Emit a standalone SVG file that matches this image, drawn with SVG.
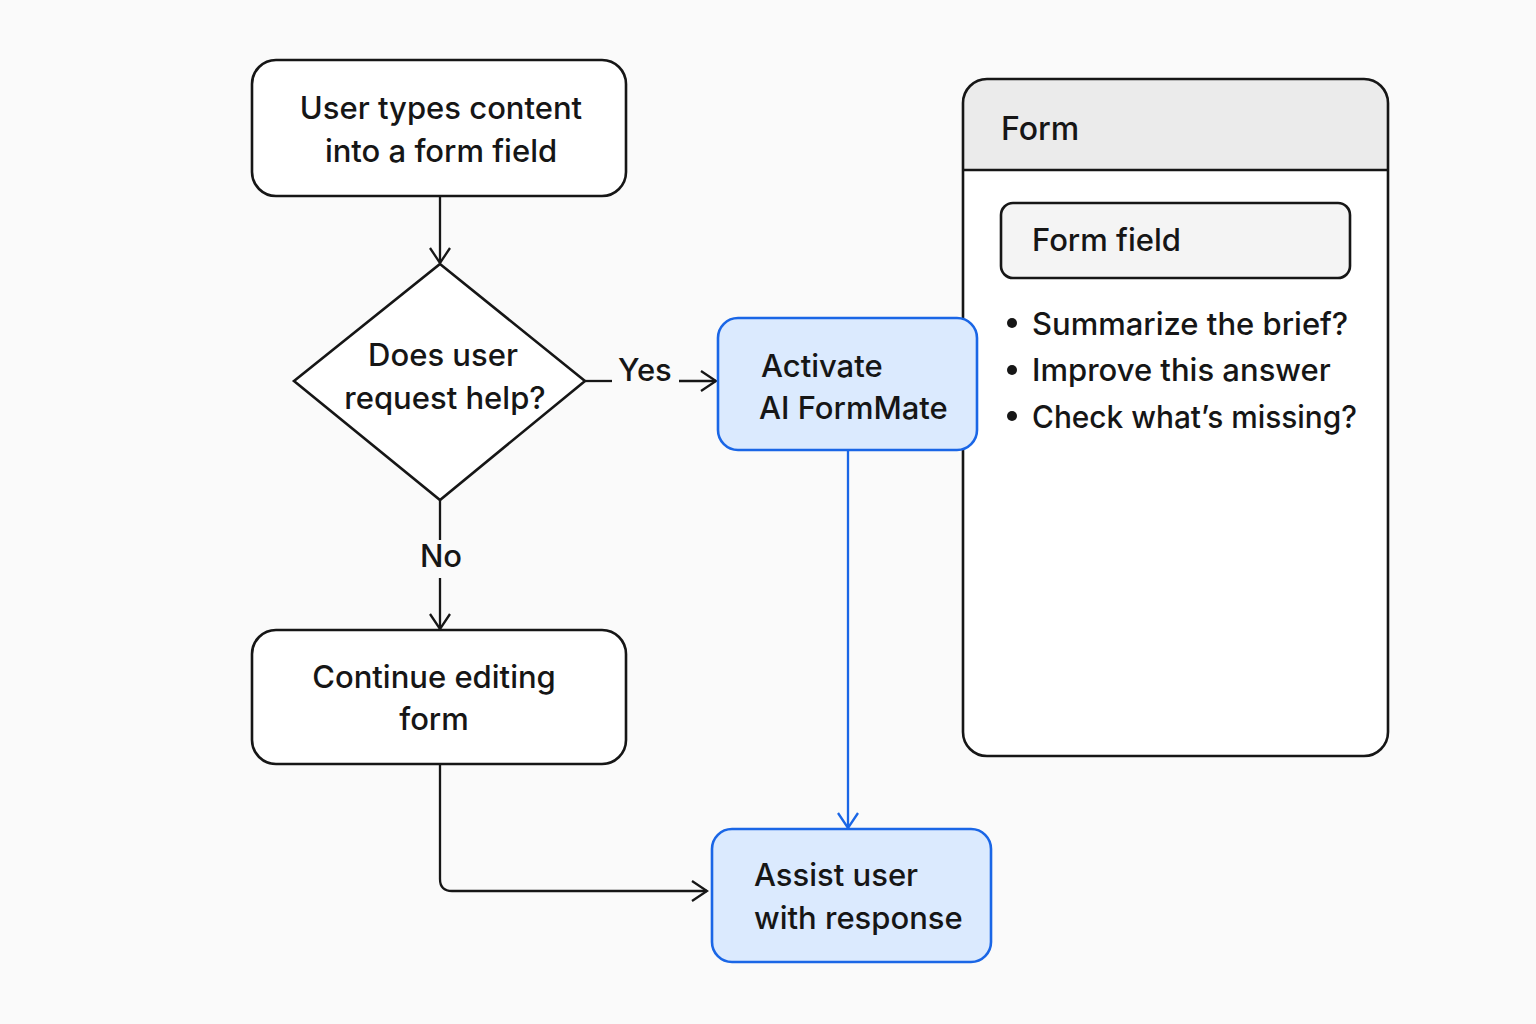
<svg xmlns="http://www.w3.org/2000/svg" width="1536" height="1024" viewBox="0 0 1536 1024">
<defs>
<style>
.t{font-family:Inter,"Noto Sans","Liberation Sans",sans-serif;font-size:31px;font-weight:500;fill:#161616}
.c{text-anchor:middle}
.box{fill:#ffffff;stroke:#161616;stroke-width:2.6}
.blue{fill:#dbeafe;stroke:#1a66e6;stroke-width:2.6}
.ln{fill:none;stroke:#161616;stroke-width:2.3}
.bl{fill:none;stroke:#1a66e6;stroke-width:2.3}
</style>
<marker id="ah" viewBox="0 0 22 22" refX="20" refY="11" markerWidth="22" markerHeight="22" markerUnits="userSpaceOnUse" orient="auto">
<path d="M5 1 L20 11 L5 21" fill="none" stroke="#161616" stroke-width="2.3"/>
</marker>
<marker id="ahb" viewBox="0 0 22 22" refX="20" refY="11" markerWidth="22" markerHeight="22" markerUnits="userSpaceOnUse" orient="auto">
<path d="M5 1 L20 11 L5 21" fill="none" stroke="#1a66e6" stroke-width="2.3"/>
</marker>
</defs>
<rect width="1536" height="1024" fill="#fafafa"/>

<g id="form">
<rect x="963" y="79" width="425" height="677" rx="24" fill="#ffffff"/>
<path d="M963 170 V103 Q963 79 987 79 H1364 Q1388 79 1388 103 V170 Z" fill="#ebebeb"/>
<rect x="963" y="79" width="425" height="677" rx="24" fill="none" stroke="#161616" stroke-width="2.6"/>
<line x1="963" y1="170" x2="1388" y2="170" stroke="#161616" stroke-width="2.6"/>
<text class="t" x="1001" y="140" style="font-size:32px">Form</text>
<rect x="1001" y="203" width="349" height="75" rx="12" fill="#f4f4f4" stroke="#161616" stroke-width="2.6"/>
<text class="t" x="1032" y="251">Form field</text>
<circle cx="1012" cy="323" r="5" fill="#161616"/>
<circle cx="1012" cy="370" r="5" fill="#161616"/>
<circle cx="1012" cy="416" r="5" fill="#161616"/>
<text class="t" x="1032" y="335">Summarize the brief?</text>
<text class="t" x="1032" y="381">Improve this answer</text>
<text class="t" x="1032" y="428" textLength="325" lengthAdjust="spacingAndGlyphs">Check what’s missing?</text>
</g>

<g id="connectors">
<line class="ln" x1="440" y1="196" x2="440" y2="263" marker-end="url(#ah)"/>
<line class="ln" x1="585" y1="381" x2="612" y2="381"/>
<text class="t" x="618" y="381">Yes</text>
<line class="ln" x1="679" y1="381" x2="716" y2="381" marker-end="url(#ah)"/>
<line class="ln" x1="440" y1="500" x2="440" y2="540"/>
<text class="t c" x="441" y="567">No</text>
<line class="ln" x1="440" y1="578" x2="440" y2="629" marker-end="url(#ah)"/>
<line class="bl" x1="848" y1="450" x2="848" y2="828" marker-end="url(#ahb)"/>
<path class="ln" d="M440 764 V879 Q440 891 452 891 H707" marker-end="url(#ah)"/>
</g>

<g id="start">
<rect class="box" x="252" y="60" width="374" height="136" rx="24"/>
<text class="t c" x="441" y="119">User types content</text>
<text class="t c" x="441" y="162">into a form field</text>
</g>

<g id="decision">
<polygon class="box" points="440,264 585,381 440,500 294,381"/>
<text class="t c" x="443" y="366">Does user</text>
<text class="t c" x="445" y="409">request help?</text>
</g>

<g id="activate">
<rect class="blue" x="718" y="318" width="259" height="132" rx="20"/>
<text class="t" x="761" y="377">Activate</text>
<text class="t" x="759" y="419">AI FormMate</text>
</g>

<g id="continue">
<rect class="box" x="252" y="630" width="374" height="134" rx="24"/>
<text class="t c" x="434" y="688">Continue editing</text>
<text class="t c" x="434" y="730">form</text>
</g>

<g id="assist">
<rect class="blue" x="712" y="829" width="279" height="133" rx="20"/>
<text class="t" x="754" y="886">Assist user</text>
<text class="t" x="754" y="929">with response</text>
</g>
</svg>
